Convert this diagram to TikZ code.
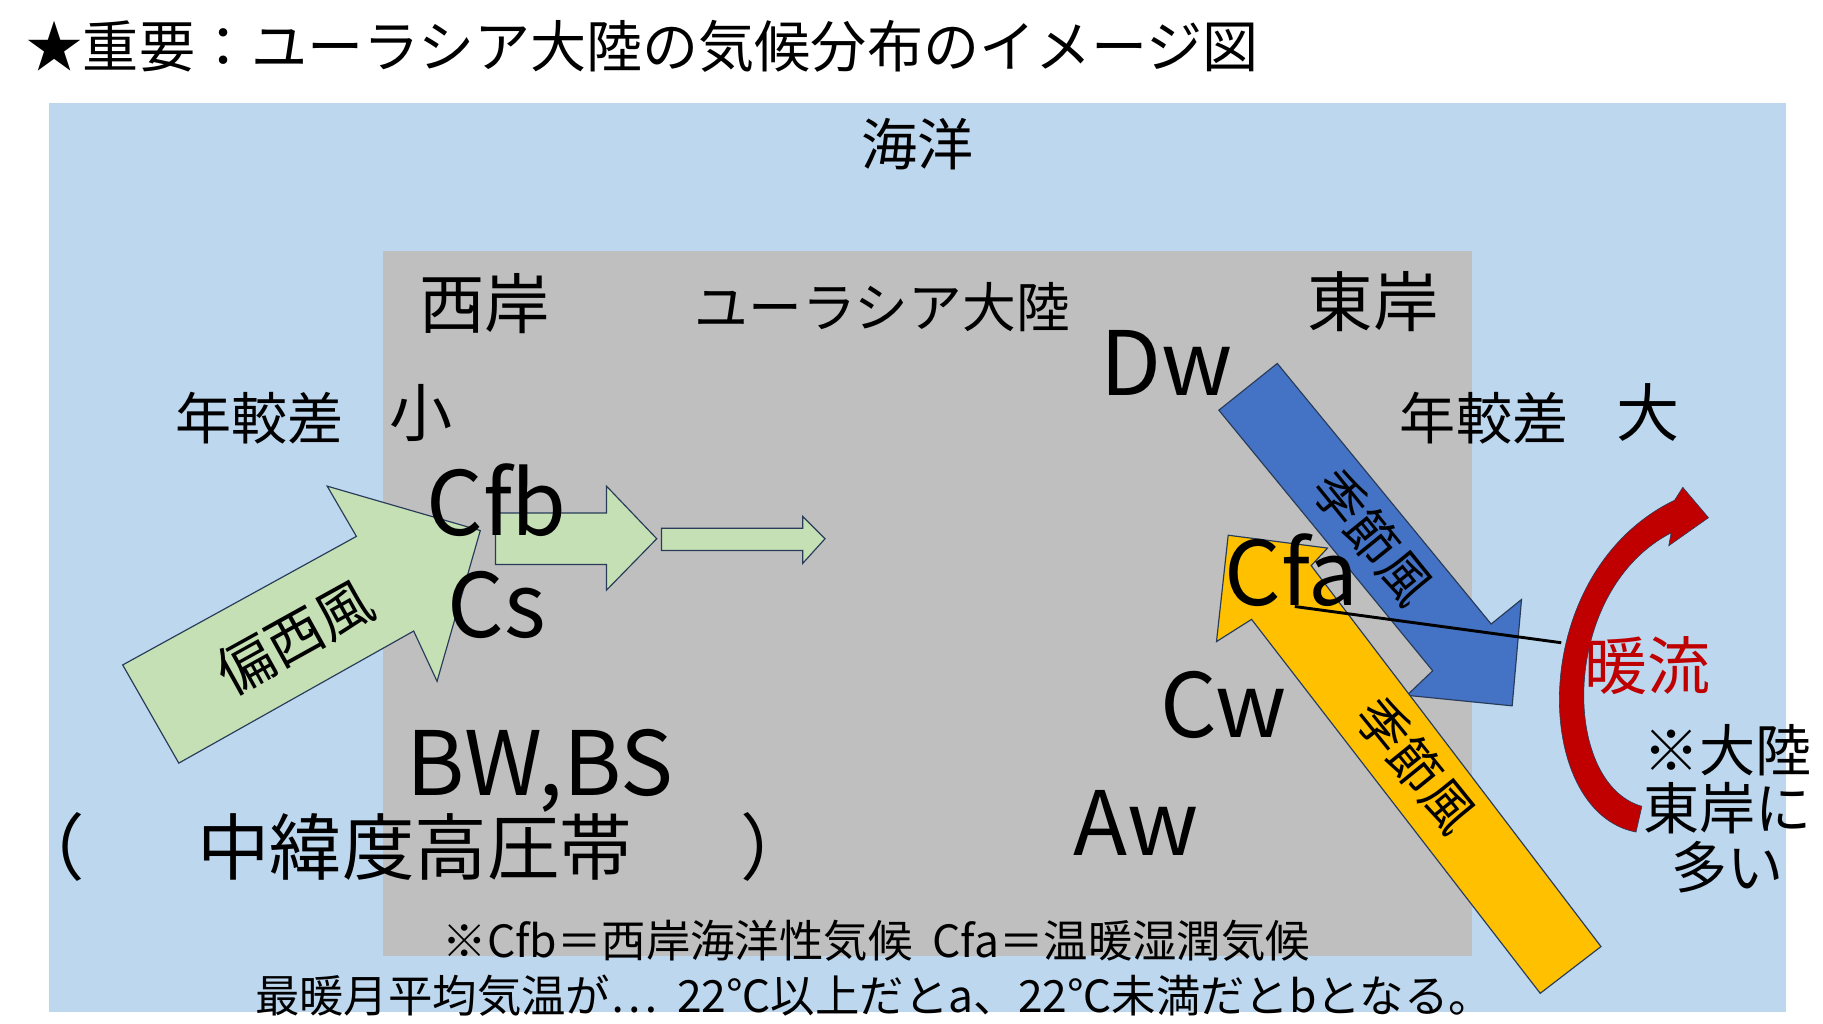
\documentclass[tikz,border=0pt]{standalone}
\usepackage{fontspec}
\setmainfont{Noto Sans CJK JP}
\usepackage{xcolor}
\usepackage{tikz}
\definecolor{seablue}{RGB}{189,215,238}
\definecolor{landgray}{RGB}{191,191,191}
\definecolor{windgreen}{RGB}{197,224,180}
\definecolor{monsoonblue}{RGB}{68,114,196}
\definecolor{monsoonyellow}{RGB}{255,192,0}
\definecolor{warmred}{RGB}{192,0,0}
\definecolor{edgeblue}{RGB}{40,60,90}
\tikzset{
  lbl/.style={inner sep=0.75pt},
  fs/.style={font=\fontsize{#1}{#1}\selectfont},
  arrowshape/.style={draw=edgeblue,line width=1pt,line join=miter}
}
\begin{document}
\begin{tikzpicture}[x=1pt,y=1pt,yscale=-1,xscale=1]
\useasboundingbox (0,0) rectangle (1560,876);
\fill[white] (0,0) rectangle (1560,876);
%Shape: ocean and land
\fill[seablue] (42,88) rectangle (1528,866);
\fill[landgray] (328,215) rectangle (1260,818);
% Text Node
\node[lbl,fs=48,anchor=west] (title) at (22,40) {★重要：ユーラシア大陸の気候分布のイメージ図};
\node[lbl,fs=48] (sea) at (785,123) {海洋};
\node[lbl,fs=56] (west) at (415,260) {西岸};
\node[lbl,fs=46] (land) at (755,263) {ユーラシア大陸};
\node[lbl,fs=56] (east) at (1175,258) {東岸};
\node[lbl,fs=48] (rangeW) at (222,358) {年較差};
\node[lbl,fs=54] (small) at (360,353) {小};
\node[lbl,fs=48] (rangeE) at (1270,358) {年較差};
\node[lbl,fs=54] (large) at (1410,353) {大};
%Shape: westerlies
\filldraw[arrowshape,fill=windgreen] (105,569) -- (305,459) -- (280,416) -- (411,454) -- (374,583) -- (354,540) -- (153,653) -- cycle;
\node[lbl,fs=48,rotate=29] (westerly) at (252,545) {偏西風};
\filldraw[arrowshape,fill=windgreen] (424,439) -- (519,439) -- (519,416) -- (562,461) -- (519,505) -- (519,483) -- (424,483) -- cycle;
\filldraw[arrowshape,fill=windgreen] (566,452) -- (687,452) -- (687,442) -- (706,461) -- (687,482) -- (687,471) -- (566,471) -- cycle;
\node[lbl,fs=76] (cfb) at (425,428) {Cfb};
\node[lbl,fs=76] (cs) at (425,518) {Cs};
\node[lbl,fs=76] (bwbs) at (462,660) {BW,BS};
\node[lbl,fs=62] (openp) at (42,725) {（};
\node[lbl,fs=62] (subtrop) at (355,725) {中緯度高圧帯};
\node[lbl,fs=62] (closep) at (665,725) {）};
%Shape: monsoons
\filldraw[arrowshape,fill=monsoonblue] (1093,311) -- (1276,534) -- (1302,513) -- (1294,604) -- (1204,595) -- (1226,574) -- (1043,351) -- cycle;
\node[lbl,fs=44,rotate=-51] (monsoonN) at (1175,460) {季節風};
\filldraw[arrowshape,fill=monsoonyellow] (1370,810) -- (1122,484) -- (1136,469) -- (1051,458) -- (1041,549) -- (1071,530) -- (1318,850) -- cycle;
\node[lbl,fs=44,rotate=-51] (monsoonS) at (1212,655) {季節風};
\node[lbl,fs=76] (dw) at (998,311) {Dw};
\node[lbl,fs=76] (cfa) at (1105,488) {Cfa};
\node[lbl,fs=76] (cw) at (1047,603) {Cw};
\node[lbl,fs=76] (aw) at (972,704) {Aw};
%Shape: warm current
\filldraw[draw=edgeblue,line width=0.5pt,fill=warmred] (1400,712) .. controls (1310,695) and (1305,490) .. (1433,428) -- (1440,417) -- (1462,443) -- (1428,467) -- (1430,456) .. controls (1335,505) and (1335,670) .. (1405,690) -- cycle;
\coordinate (warmpt) at (1336,550);
\draw[line width=2.5pt] (1108,519) -- (warmpt);
\node[lbl,fs=54,text=warmred] (warm) at (1410,570) {暖流};
\node[lbl,fs=48,align=center] (note) at (1478,692) {※大陸\\[2pt]東岸に\\[2pt]多い};
%Text: notes
\node[lbl,fs=38] (defs) at (750,805) {※Cfb＝西岸海洋性気候\ \ Cfa＝温暖湿潤気候};
\node[lbl,fs=38] (rule) at (748,852) {最暖月平均気温が…\ \ 22℃以上だとa、22℃未満だとbとなる。};
\end{tikzpicture}
\end{document}
